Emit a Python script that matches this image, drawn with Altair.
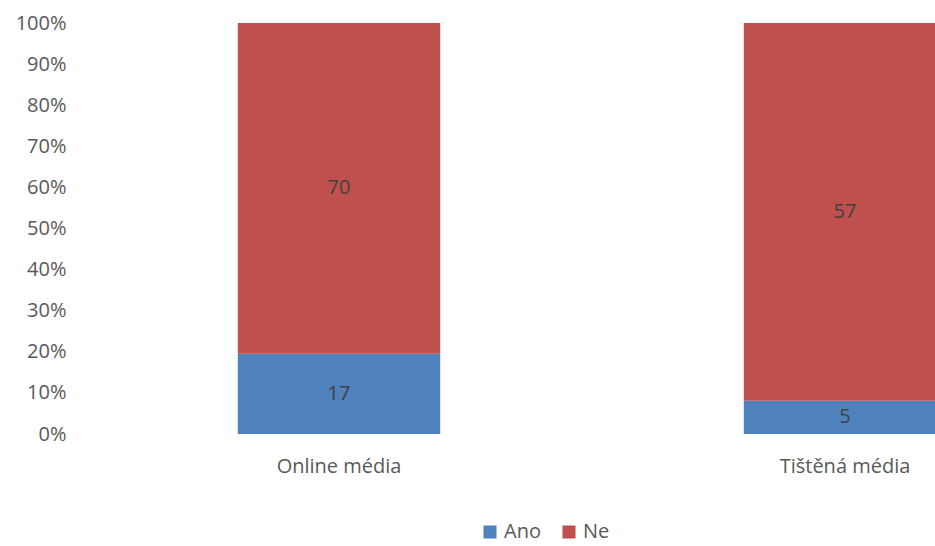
import altair as alt
import pandas as pd

categories = ["Online média", "Tištěná média"]
series = ["Ano", "Ne"]
ano_values = [17, 5]
ne_values = [70, 57]

rows = []
for i, c in enumerate(categories):
    rows.append({"cat": c, "series": "Ano", "value": ano_values[i], "order": 0})
    rows.append({"cat": c, "series": "Ne", "value": ne_values[i], "order": 1})
df = pd.DataFrame(rows)

FONT = "Open Sans"
GREY = "#595959"
FS = 20

x_enc = alt.X("cat:N", sort=categories,
              scale=alt.Scale(range=[-2, 1010], paddingInner=0.6, paddingOuter=0.3),
              axis=alt.Axis(title=None, labelAngle=0, labelFontSize=FS, labelColor=GREY,
                            labelFont=FONT, ticks=False, domain=False, labelPadding=22))

base = alt.Chart(df).transform_stack(
    stack="value", groupby=["cat"], as_=["y0", "y1"], offset="normalize",
    sort=[alt.SortField("order")]
).transform_calculate(mid="(datum.y0 + datum.y1) / 2")

bars = base.mark_bar(clip=True).encode(
    x=x_enc,
    y=alt.Y("y0:Q", scale=alt.Scale(domain=[0, 1]),
            axis=alt.Axis(title=None, format="%", values=[i / 10 for i in range(11)],
                          labelFontSize=FS, labelColor=GREY, labelFont=FONT,
                          ticks=False, domain=False, grid=False, labelPadding=22)),
    y2="y1:Q",
    color=alt.Color("series:N", sort=series,
                    scale=alt.Scale(domain=series, range=["#4F81BD", "#C0504D"]),
                    legend=alt.Legend(title=None, orient="none", direction="horizontal",
                                      legendX=392, legendY=499, symbolType="square",
                                      symbolSize=170, symbolStrokeWidth=0,
                                      labelFontSize=FS, labelColor=GREY, labelFont=FONT,
                                      columnPadding=18, labelOffset=4)),
)

labels = base.mark_text(fontSize=FS, color="#404040", font=FONT, clip=True).encode(
    x=alt.X("cat:N", sort=categories),
    y=alt.Y("mid:Q"),
    text=alt.Text("value:Q"),
)

chart = (bars + labels).properties(
    width=847, height=411,
    autosize=alt.AutoSizeParams(type="none"),
    padding={"left": 88, "top": 23, "right": 0, "bottom": 112},
).configure_view(stroke=None)

chart.save("out.html", embed_options={"renderer": "svg", "actions": False})
